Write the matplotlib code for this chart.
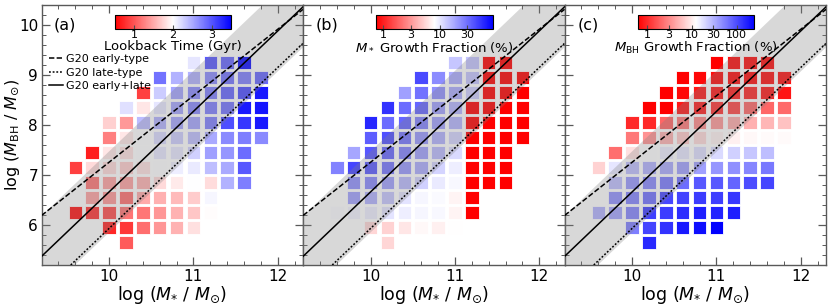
import numpy as np
import matplotlib
matplotlib.use("Agg")
import matplotlib.pyplot as plt
from matplotlib.colors import Normalize, LogNorm
from matplotlib.ticker import MultipleLocator, NullLocator, FixedLocator

N = np.nan

# bin centres
log_mstar = [9.6, 9.8, 10.0, 10.2, 10.4, 10.6, 10.8, 11.0, 11.2, 11.4, 11.6, 11.8]
log_mbh = [5.65, 5.95, 6.25, 6.55, 6.85, 7.15, 7.45, 7.75, 8.05, 8.35, 8.65, 8.95, 9.25]

# (a) lookback time [Gyr]; rows = log_mbh (bottom -> top), cols = log_mstar
lookback_gyr = [
    [N, N, N, 1.03, N, N, N, N, N, N, N, N],
    [N, N, 0.73, 0.83, 1.15, 1.39, 1.55, 1.82, N, N, N, N],
    [0.61, 0.80, 0.95, 1.18, 1.20, 1.39, 1.55, 1.67, 1.98, N, N, N],
    [N, 1.45, 1.40, 1.15, 1.50, 1.54, 1.60, 1.70, 2.05, N, N, N],
    [N, 1.19, 1.45, 1.45, 1.55, 1.78, 1.88, 2.00, 1.79, 2.45, 2.75, N],
    [0.88, 1.78, 1.78, 1.70, 1.82, 2.00, 2.10, 2.12, 2.38, 2.50, 2.98, N],
    [N, 0.68, 1.85, 1.82, 2.00, 2.15, 2.15, 2.27, 2.56, 2.62, 2.86, N],
    [N, N, 1.25, 1.85, 2.00, 2.22, 2.30, 2.38, 2.50, 2.68, 2.75, 2.68],
    [N, N, 1.73, 1.40, 2.39, 2.45, 2.53, 2.53, 2.75, 3.04, 3.18, 3.35],
    [N, N, N, 2.18, 1.85, 2.15, 2.53, 2.68, 2.75, 2.83, 3.35, 3.38],
    [N, N, N, N, 0.88, 2.30, 2.53, 2.68, 2.75, 2.90, 3.05, 3.35],
    [N, N, N, N, N, 2.83, 2.45, 2.45, 2.68, 2.83, 2.75, 2.90],
    [N, N, N, N, N, N, N, 2.15, 2.98, 2.90, 3.43, N],
]

# (b) M* growth fraction [%]
mstar_growth_pct = [
    [N, N, N, 5.4, N, N, N, N, N, N, N, N],
    [N, N, 5.4, 5.2, 6.3, 7.4, 6.9, 7.8, N, N, N, N],
    [8.3, 8.9, 9.2, 10.1, 9.2, 8.7, 8.5, 7.1, 0.5, N, N, N],
    [N, 19.1, 16.2, 13.4, 10.1, 8.7, 8.3, 7.2, 0.5, N, N, N],
    [N, 22.0, 23.7, 19.1, 15.1, 12.2, 9.6, 8.5, 0.5, 0.5, 0.5, N],
    [25.4, 43.8, 37.1, 28.6, 20.5, 17.0, 11.9, 9.2, 0.5, 0.5, 0.5, N],
    [N, 18.2, 37.1, 33.0, 25.4, 19.1, 15.1, 11.1, 0.5, 0.5, 0.5, N],
    [N, N, 35.4, 39.8, 28.6, 20.5, 16.2, 11.9, 0.5, 0.5, 0.5, 0.5],
    [N, N, 59.7, 30.7, 33.0, 25.4, 19.1, 15.8, 0.5, 0.5, 0.5, 0.5],
    [N, N, N, 53.0, 30.7, 33.0, 19.1, 15.8, 0.5, 0.5, 0.5, 0.5],
    [N, N, N, N, 19.1, 29.3, 22.0, 17.0, 12.8, 0.5, 0.5, 0.5],
    [N, N, N, N, N, 42.8, 23.1, 17.0, 13.7, 0.5, 0.5, 0.5],
    [N, N, N, N, N, N, N, 13.4, 13.7, 0.5, 0.5, N],
]

# (c) M_BH growth fraction [%]
mbh_growth_pct = [
    [N, N, N, 155, N, N, N, N, N, N, N, N],
    [N, N, 55.6, 111, 137, 186, 210, 250, N, N, N, N],
    [30.4, 35.4, 52.4, 118, 122, 146, 175, 165, 175, N, N, N],
    [N, 45.0, 52.4, 66.6, 108, 111, 122, 118, 129, N, N, N],
    [N, 26.2, 41.1, 49.3, 59.0, 68.7, 87.4, 87.4, 75.2, 102, 111, N],
    [7.15, 16.6, 26.2, 30.4, 33.3, 37.6, 37.6, 42.4, 45.0, 50.8, 60.8, N],
    [N, 2.2, 8.57, 12.3, 15.2, 16.6, 18.2, 18.8, 21.2, 23.9, 26.2, N],
    [N, N, 2.49, 3.36, 4.98, 6.34, 7.83, 10.6, 10.3, 11.2, 11.6, 11.6],
    [N, N, 0.98, 0.98, 2.01, 2.49, 3.07, 3.68, 4.55, 4.83, 5.13, 5.97],
    [N, N, N, 0.6, 0.6, 0.81, 0.87, 1.10, 1.36, 2.01, 2.01, 2.14],
    [N, N, N, N, 0.6, 0.66, 0.81, 0.81, 0.87, 0.95, 0.81, 0.77],
    [N, N, N, N, N, 0.6, 0.66, 0.70, 0.70, 0.70, 0.74, 0.74],
    [N, N, N, N, N, N, N, 0.6, 0.70, 0.70, 0.70, N],
]

# Greene et al. 2020 relations: log MBH = alpha + beta * log(M*/3e10)
g20_early = (7.89, 1.33)
g20_late = (6.70, 1.61)
g20_all = (7.43, 1.61)
g20_all_scatter = 0.81

panel_labels = ["(a)", "(b)", "(c)"]
cbar_labels = ["Lookback Time (Gyr)", r"$M_*$ Growth Fraction (%)",
               r"$M_{\rm BH}$ Growth Fraction (%)"]
cbar_ticks = [[1, 2, 3], [1, 3, 10, 30], [1, 3, 10, 30, 100]]
norms = [Normalize(0.5, 3.5), LogNorm(0.74, 85), LogNorm(0.6, 250)]
grids = [lookback_gyr, mstar_growth_pct, mbh_growth_pct]

fig = plt.figure(figsize=(8.31, 3.05), dpi=100)
xlim = (9.2, 12.3)
ylim = (5.2, 10.4)
axw = 0.3147
lefts = [0.050, 0.050 + axw, 0.050 + 2 * axw]
spine_col = "0.35"

X, Y = np.meshgrid(log_mstar, log_mbh)
xx = np.linspace(xlim[0], xlim[1], 200)
piv = np.log10(3e10)

def rel(p):
    return p[0] + p[1] * (xx - piv)

for i in range(3):
    ax = fig.add_axes([lefts[i], 0.131, axw, 0.8525])
    V = np.array(grids[i], dtype=float)
    m = np.isfinite(V)
    ax.scatter(X[m], Y[m], c=V[m], cmap="bwr_r", norm=norms[i], marker="s",
               s=95, edgecolors="white", linewidths=0.6, zorder=2)
    yall = rel(g20_all)
    ax.fill_between(xx, yall - g20_all_scatter, yall + g20_all_scatter,
                    color="gray", alpha=0.3, lw=0, zorder=3)
    ax.plot(xx, rel(g20_early), color="k", lw=1.1, ls=(0, (3.5, 1.5)), zorder=4,
            label="G20 early-type")
    ax.plot(xx, rel(g20_late), color="k", lw=1.1, ls=(0, (1.2, 1.2)), zorder=4,
            label="G20 late-type")
    ax.plot(xx, yall, color="k", lw=1.1, ls="-", zorder=4, label="G20 early+late")
    ax.set_xlim(*xlim)
    ax.set_ylim(*ylim)
    ax.xaxis.set_major_locator(FixedLocator([10, 11, 12]))
    ax.xaxis.set_minor_locator(MultipleLocator(0.2))
    ax.yaxis.set_major_locator(FixedLocator([6, 7, 8, 9, 10]))
    ax.yaxis.set_minor_locator(MultipleLocator(0.2))
    ax.tick_params(which="both", direction="in", top=True, right=True,
                   color=spine_col, labelsize=11, pad=2.5)
    ax.tick_params(which="major", length=6, width=0.9)
    ax.tick_params(which="minor", length=3, width=0.7)
    for sp in ax.spines.values():
        sp.set_color(spine_col)
        sp.set_linewidth(1.0)
    ax.set_xlabel(r"log ($M_{*}$ / $M_{\odot}$)", fontsize=12.5, labelpad=0.5)
    if i == 0:
        ax.set_ylabel(r"log ($M_{\rm BH}$ / $M_{\odot}$)", fontsize=11.5)
        ax.yaxis.set_label_coords(-0.074, 0.5)
        ax.legend(loc="upper left", bbox_to_anchor=(0.029, 0.812), frameon=False,
                  fontsize=8, handlelength=1.25, handletextpad=0.3,
                  labelspacing=0.33, borderaxespad=0, borderpad=0)
    else:
        ax.tick_params(labelleft=False)
    ax.text(0.048, 0.925, panel_labels[i], transform=ax.transAxes, fontsize=11.5,
            ha="left", va="center")

    cax = ax.inset_axes([0.279, 0.908, 0.447, 0.054])
    sm = plt.cm.ScalarMappable(norm=norms[i], cmap="bwr_r")
    cb = fig.colorbar(sm, cax=cax, orientation="horizontal")
    cb.set_ticks(cbar_ticks[i])
    cb.set_ticklabels([str(t) for t in cbar_ticks[i]])
    cax.xaxis.set_minor_locator(NullLocator())
    cax.tick_params(labelsize=8, length=3, pad=0.5, direction="in", color="0.3")
    cb.set_label(cbar_labels[i], fontsize=9.5, labelpad=0)
    cb.outline.set_linewidth(0.8)

fig.savefig("out.png", dpi=100)
